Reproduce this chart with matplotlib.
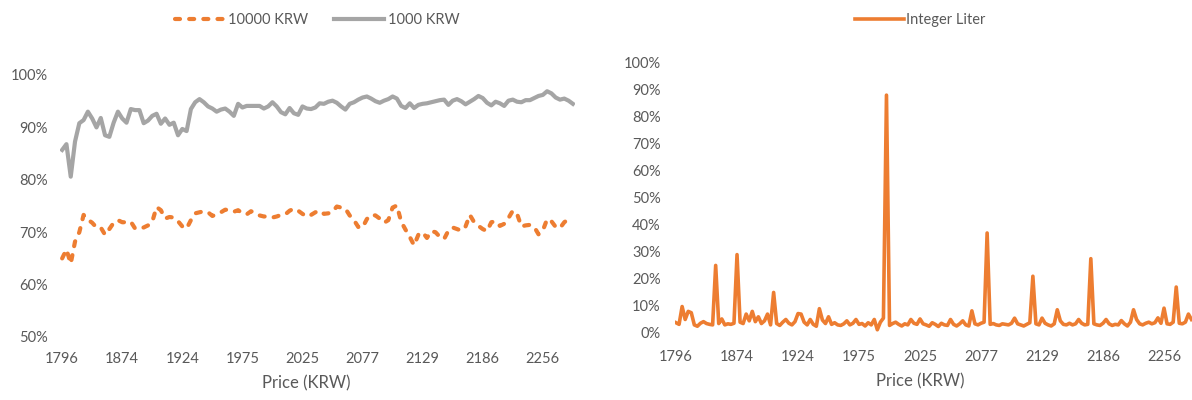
import matplotlib
matplotlib.use("Agg")
import matplotlib.pyplot as plt
from matplotlib.ticker import FuncFormatter

plt.rcParams['font.family'] = ['Lato', 'DejaVu Sans']

# ---------------- data ----------------
tick_labels = ["1796", "1874", "1924", "1975", "2025", "2077", "2129", "2186", "2256"]

krw_10000 = [
    65.0, 66.7, 64.0, 68.2, 70.0, 73.3, 72.4, 71.8, 70.9, 70.9,
    69.5, 70.6, 71.8, 72.3, 71.9, 71.9, 72.0, 70.7, 70.8, 70.9,
    71.3, 72.0, 74.8, 74.2, 72.6, 72.9, 72.8, 72.1, 71.1, 70.7,
    72.3, 73.6, 73.8, 74.0, 73.8, 73.1, 73.4, 73.8, 74.3, 74.2,
    73.9, 74.2, 73.6, 73.4, 74.0, 73.7, 73.2, 73.0, 73.0, 72.8,
    73.0, 73.3, 73.4, 74.1, 74.5, 74.1, 73.5, 73.0, 73.3, 73.8,
    74.1, 73.5, 73.6, 73.9, 74.9, 74.7, 74.5, 73.2, 72.3, 71.0,
    70.9, 72.5, 73.3, 73.2, 72.6, 71.8, 72.3, 74.7, 75.1, 72.0,
    70.5, 69.1, 67.5, 69.5, 70.0, 68.9, 70.2, 70.0, 69.1, 68.7,
    70.3, 70.9, 70.6, 70.3, 71.1, 73.3, 71.9, 71.2, 70.6, 70.2,
    71.9, 72.1, 71.2, 71.6, 72.7, 74.1, 73.5, 71.1, 71.3, 71.4,
    71.0, 69.6, 70.3, 72.5, 72.1, 71.0, 70.8, 71.9, 72.5, 72.6,
]

krw_1000 = [
    85.7, 86.8, 80.6, 87.3, 90.8, 91.4, 93.0, 91.7, 90.0, 91.8,
    88.5, 88.2, 90.9, 93.0, 91.7, 90.9, 93.5, 93.3, 93.3, 90.8,
    91.3, 92.2, 92.6, 90.7, 91.7, 90.5, 90.9, 88.5, 89.7, 89.3,
    93.5, 94.8, 95.4, 94.8, 94.0, 93.6, 93.0, 93.4, 93.6, 93.0,
    92.2, 94.5, 93.8, 94.1, 94.1, 94.1, 94.1, 93.6, 94.0, 94.8,
    94.0, 92.9, 92.5, 93.7, 92.7, 92.4, 94.0, 93.6, 93.5, 93.8,
    94.6, 94.5, 94.9, 95.1, 94.7, 94.0, 93.4, 94.5, 94.8, 95.3,
    95.7, 95.9, 95.5, 95.0, 94.7, 95.1, 95.4, 95.9, 95.5, 94.1,
    93.7, 94.6, 93.7, 94.3, 94.5, 94.6, 94.8, 95.0, 95.2, 95.3,
    94.3, 95.1, 95.4, 95.0, 94.4, 94.9, 95.4, 96.0, 95.6, 94.7,
    94.2, 94.9, 94.6, 94.1, 95.1, 95.3, 94.9, 94.8, 95.2, 95.2,
    95.6, 96.0, 96.2, 96.9, 96.5, 95.7, 95.3, 95.5, 95.1, 94.5,
]

integer_liter = [
    3.8, 3.2, 9.8, 5.0, 8.0, 7.5, 3.0, 2.5, 3.6, 4.2,
    3.5, 3.2, 3.0, 25.0, 3.5, 5.2, 3.0, 3.4, 3.2, 3.6,
    29.0, 4.0, 3.5, 7.0, 4.5, 8.0, 4.2, 6.0, 3.5, 4.5,
    7.0, 3.0, 15.0, 3.5, 2.8, 4.0, 5.0, 3.6, 3.0, 4.2,
    7.2, 7.0, 4.0, 3.0, 5.0, 3.2, 2.5, 9.0, 4.8, 3.5,
    6.0, 3.2, 3.8, 3.0, 2.8, 3.4, 4.5, 3.0, 3.6, 5.0,
    3.2, 3.5, 2.6, 3.8, 3.0, 5.0, 1.2, 4.0, 5.5, 88.0,
    2.8, 3.5, 4.0, 3.2, 2.6, 3.4, 3.0, 5.0, 3.6, 3.2,
    5.2, 3.4, 3.0, 2.5, 3.8, 3.2, 2.4, 3.6, 3.0, 2.8,
    5.0, 3.2, 2.6, 3.4, 4.5, 3.0, 2.6, 8.2, 3.4, 3.0,
    3.6, 4.0, 37.0, 3.2, 3.5, 3.0, 2.8, 3.4, 3.2, 3.0,
    3.6, 5.5, 3.4, 3.0, 2.6, 3.2, 3.8, 21.0, 3.4, 3.0,
    5.5, 3.6, 3.0, 2.6, 3.4, 8.6, 4.5, 3.2, 3.0, 3.6,
    3.0, 3.4, 5.0, 3.6, 3.0, 3.2, 27.5, 3.4, 3.0, 2.8,
    3.6, 5.0, 3.4, 2.8, 3.2, 3.0, 4.6, 3.4, 2.6, 4.0,
    8.6, 5.0, 3.4, 3.0, 3.6, 4.0, 3.4, 3.8, 5.6, 3.6,
    9.2, 3.4, 3.2, 4.0, 17.0, 3.6, 3.4, 4.0, 7.0, 5.0,
]

# ---------------- style ----------------
ORANGE = "#ED7D31"
GRAY = "#A5A5A5"
TEXT = "#595959"
W, H = 1192, 400

fig = plt.figure(figsize=(W / 100, H / 100), dpi=100)


def px_axes(x0, x1, ytop, ybot):
    return fig.add_axes([x0 / W, 1 - ybot / H, (x1 - x0) / W, (ybot - ytop) / H])


pct = FuncFormatter(lambda v, p: f"{v:.0f}%")


def style(ax, step, n, label_x, label_y, xpad, ypad):
    for s in ax.spines.values():
        s.set_visible(False)
    ax.set_xticks(range(0, n, step)[:len(tick_labels)])
    ax.set_xticklabels(tick_labels)
    ax.tick_params(axis="both", length=0, colors=TEXT, labelsize=10.5)
    ax.tick_params(axis="x", pad=xpad)
    ax.tick_params(axis="y", pad=ypad)
    ax.yaxis.set_major_formatter(pct)
    ax.set_xlabel("Price (KRW)", color=TEXT, fontsize=12)
    ax.xaxis.set_label_coords(label_x, label_y)
    ax.patch.set_alpha(0)


# ---------------- left panel ----------------
n1 = len(krw_1000)
step1 = 14
axL = px_axes(60, 575, 75, 337)
x1 = list(range(n1))
axL.plot(x1, krw_10000, color=ORANGE, lw=3.0, ls=(0, (1.2, 2.2)),
         dash_capstyle="round", solid_capstyle="round", label="10000 KRW")
axL.plot(x1, krw_1000, color=GRAY, lw=3.0, solid_joinstyle="round",
         label="1000 KRW")
axL.set_xlim(-0.5, n1 - 0.5)
axL.set_ylim(50, 100)
axL.set_yticks(range(50, 101, 10))
style(axL, step1, n1, 0.478, -0.145, 11, 9)
axL.legend(loc="center", bbox_to_anchor=(317 / W, 1 - 20 / H),
           bbox_transform=fig.transFigure, ncol=2, frameon=False,
           fontsize=10.5, handlelength=3.4, handletextpad=0.25,
           columnspacing=1.8, labelcolor=TEXT)

# ---------------- right panel ----------------
n2 = len(integer_liter)
step2 = 20
axR = px_axes(674.5, 1193, 62.7, 333)
x2 = list(range(n2))
axR.plot(x2, integer_liter, color=ORANGE, lw=2.6, solid_joinstyle="round",
         label="Integer Liter")
axR.set_xlim(-0.5, n2 - 0.5)
axR.set_ylim(0, 100)
axR.set_yticks(range(0, 101, 10))
style(axR, step2, n2, 0.474, -0.15, 12, 10)
axR.legend(loc="center", bbox_to_anchor=(920 / W, 1 - 20 / H),
           bbox_transform=fig.transFigure, frameon=False, fontsize=10.5,
           handlelength=3.4, handletextpad=0.1, labelcolor=TEXT)

fig.savefig("out.png", dpi=100)
